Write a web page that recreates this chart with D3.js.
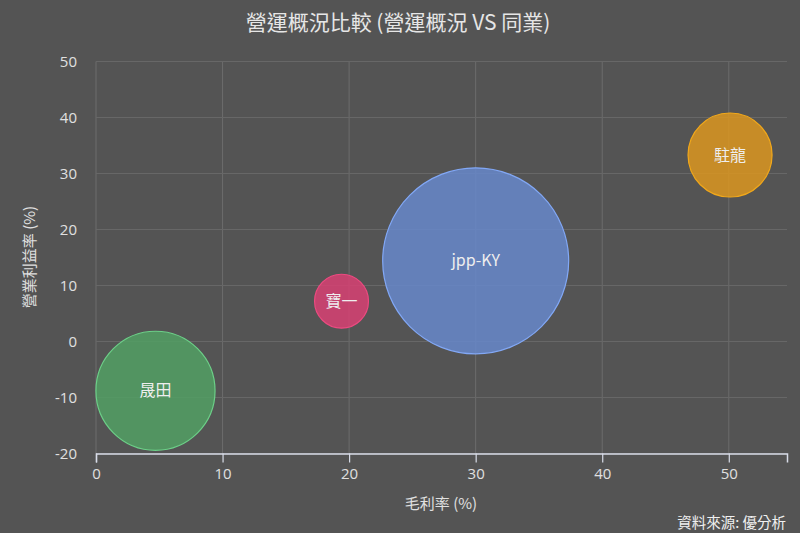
<!DOCTYPE html>
<html>
<head>
<meta charset="utf-8">
<script src="https://cdn.jsdelivr.net/npm/d3@7"></script>
<style>
  body { margin: 0; background: #545454; }
  svg { display: block; font-family: "Noto Sans CJK TC", "Noto Sans", sans-serif; }
</style>
</head>
<body>
<div id="chart"></div>
<script>
// companies, gross margin (x), operating margin (y), bubble size (z)
const companies = ["晟田", "寶一", "jpp-KY", "駐龍"];
const grossMargin = [4.7, 19.4, 30.0, 50.1];
const operatingMargin = [-8.8, 7.2, 14.4, 33.3];
const bubbleSize = [41, 8.4, 100, 20.4];
const colors = ["#52a064", "#d84173", "#6788cb", "#dc9620"];
const strokes = ["#6cd088", "#ec4a80", "#82a8f6", "#f2a81a"];
const xTicks = [0, 10, 20, 30, 40, 50];
const yTicks = [-20, -10, 0, 10, 20, 30, 40, 50];

const width = 800, height = 533;
const margin = { top: 60, right: 13, bottom: 80, left: 96 };

const svg = d3.select("#chart").append("svg")
  .attr("width", width)
  .attr("height", height);

svg.append("rect")
  .attr("width", width)
  .attr("height", height)
  .attr("fill", "#545454");

const x = d3.scaleLinear()
  .domain([0, 54.6])
  .range([margin.left, width - margin.right]);

const y = d3.scaleLinear()
  .domain([-20, 50])
  .range([height - margin.bottom + 0.5, margin.top + 1.5]);

const r = d3.scaleSqrt()
  .domain([0, d3.max(bubbleSize)])
  .range([0, 93]);

// grid lines
svg.append("g")
  .selectAll("line")
  .data(xTicks)
  .enter().append("line")
  .attr("x1", d => x(d)).attr("x2", d => x(d))
  .attr("y1", y(50)).attr("y2", y(-20))
  .attr("stroke", "#6c6c6c")
  .attr("stroke-width", 1);

svg.append("g")
  .selectAll("line")
  .data(yTicks)
  .enter().append("line")
  .attr("x1", x(0)).attr("x2", x.range()[1])
  .attr("y1", d => y(d)).attr("y2", d => y(d))
  .attr("stroke", "#676767")
  .attr("stroke-width", 1);

// bubbles
const data = companies.map((c, i) => ({
  name: c, x: grossMargin[i], y: operatingMargin[i], z: bubbleSize[i],
  fill: colors[i], stroke: strokes[i]
}));

const bubbles = svg.append("g")
  .selectAll("g")
  .data(data)
  .enter().append("g");

bubbles.append("circle")
  .attr("cx", d => x(d.x))
  .attr("cy", d => y(d.y))
  .attr("r", d => r(d.z))
  .attr("fill", d => d.fill)
  .attr("fill-opacity", 0.85)
  .attr("stroke", d => d.stroke)
  .attr("stroke-width", 1.2);

bubbles.append("text")
  .attr("x", d => x(d.x))
  .attr("y", d => y(d.y))
  .attr("dy", "0.35em")
  .attr("text-anchor", "middle")
  .attr("fill", "#eeeeee")
  .style("font-size", "16px")
  .text(d => d.name);

// x axis
const xAxis = svg.append("g")
  .attr("transform", `translate(0,${y(-20)})`)
  .call(d3.axisBottom(x).tickValues(xTicks).tickSize(9).tickPadding(6));
xAxis.select(".domain").attr("stroke", "#d8dce8").attr("stroke-width", 1.5);
xAxis.selectAll(".tick line").attr("stroke", "#d8dce8").attr("stroke-width", 1.2);
xAxis.selectAll(".tick text")
  .attr("fill", "#e0e0e0")
  .style("font-size", "15px")
  .style("font-family", "'Open Sans', 'Noto Sans', sans-serif");

// y axis labels
svg.append("g")
  .selectAll("text")
  .data(yTicks)
  .enter().append("text")
  .attr("x", 77)
  .attr("y", d => y(d))
  .attr("dy", "0.35em")
  .attr("text-anchor", "end")
  .attr("fill", "#e0e0e0")
  .style("font-size", "15px")
  .style("font-family", "'Open Sans', 'Noto Sans', sans-serif")
  .text(d => d);

// titles
svg.append("text")
  .attr("x", 398)
  .attr("y", 30)
  .attr("text-anchor", "middle")
  .attr("fill", "#e6e6e6")
  .style("font-size", "21px")
  .text("營運概況比較 (營運概況 VS 同業)");

svg.append("text")
  .attr("x", 441)
  .attr("y", 509)
  .attr("text-anchor", "middle")
  .attr("fill", "#e0e0e0")
  .style("font-size", "15px")
  .text("毛利率 (%)");

svg.append("text")
  .attr("transform", "translate(35,257) rotate(-90)")
  .attr("text-anchor", "middle")
  .attr("fill", "#e0e0e0")
  .style("font-size", "15px")
  .text("營業利益率 (%)");

svg.append("text")
  .attr("x", 786)
  .attr("y", 528)
  .attr("text-anchor", "end")
  .attr("fill", "#f0f0f0")
  .style("font-size", "14.5px")
  .text("資料來源: 優分析");
</script>
</body>
</html>
